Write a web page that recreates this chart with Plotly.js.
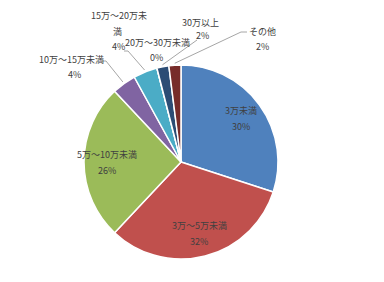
<!DOCTYPE html>
<html>
<head>
<meta charset="utf-8">
<script src="https://cdn.plot.ly/plotly-3.0.1.min.js"></script>
<style>html,body{margin:0;padding:0;background:#fff;}#chart{width:384px;height:282px;}</style>
</head>
<body>
<div id="chart"></div>
<script>
// ---- data ----
const categories = ['3万未満','3万～5万未満','5万～10万未満','10万～15万未満','15万～20万未満','20万～30万未満','30万以上','その他'];
const shares = [30, 32, 26, 4, 4, 0, 2, 2];
const labelLines = [['3万未満'],['3万～5万未満'],['5万～10万未満'],['10万～15万未満'],['15万～20万未','満'],['20万～30万未満'],['30万以上'],['その他']];
const colors = ['#4F81BD','#C0504D','#9BBB59','#8064A2','#4BACC6','#F79646','#2C4D75','#772C2A'];

// ---- layout geometry (pixels) ----
const W = 384, H = 282, CX = 181, CY = 162, R = 97;
// outside label placements: [nameX, nameY(first line), pctX, pctY, elbow points...]
const outside = {
  3: {name:[71,60], pct:[74,74], lead:[[101,61],[106,61]]},
  4: {name:[119,15], pct:[118,46], lead:[[124,51],[128,51]]},
  5: {name:[157,42], pct:[156,58], lead:null},
  6: {name:[200,22], pct:[202,36], lead:[[197,40]]},
  7: {name:[262,32], pct:[262,47], lead:[[247,32],[241,32]]}
};

const px = x => x / W, py = y => 1 - y / H;
const total = shares.reduce((a,b)=>a+b,0);
const font = {family:'"Noto Sans CJK JP", "Noto Sans", sans-serif', size:9, color:'#404040'};
const annotations = [], shapes = [];
let cum = 0;
shares.forEach((v,i)=>{
  const th = 2*Math.PI*(cum + v/2)/total;
  cum += v;
  const sx = Math.sin(th), sy = -Math.cos(th);
  const pctText = Math.round(v/total*100) + '%';
  const add = (t,x,y) => annotations.push({text:t, x:px(x), y:py(y), xref:'paper', yref:'paper', showarrow:false, font:font, xanchor:'center', yanchor:'middle'});
  if (outside[i]) {
    const o = outside[i];
    labelLines[i].forEach((ln,k)=>add(ln, o.name[0] - (k>0?2:0), o.name[1] + k*17));
    add(pctText, o.pct[0], o.pct[1]);
    if (o.lead) {
      const pts = o.lead.concat([[CX + sx*R*1.02, CY + sy*R*1.02]]);
      for (let k=0;k<pts.length-1;k++) {
        shapes.push({type:'line', xref:'paper', yref:'paper', x0:px(pts[k][0]), y0:py(pts[k][1]), x1:px(pts[k+1][0]), y1:py(pts[k+1][1]), line:{color:'#A6A6A6', width:1}});
      }
    }
  } else {
    const d = R*0.76;
    const lx = CX + sx*d, ly = CY + sy*d;
    add(labelLines[i][0], lx, ly - 8);
    add(pctText, lx, ly + 8);
  }
});

const trace = {
  type:'pie', values:shares, labels:categories, sort:false, direction:'clockwise', rotation:0,
  marker:{colors:colors, line:{color:'#ffffff', width:1.5}},
  textinfo:'none', hoverinfo:'skip', showlegend:false,
  domain:{x:[px(CX-R), px(CX+R)], y:[py(CY+R), py(CY-R)]}
};

Plotly.newPlot('chart', [trace], {
  width:W, height:H, margin:{l:0,r:0,t:0,b:0},
  paper_bgcolor:'#ffffff', plot_bgcolor:'#ffffff',
  showlegend:false, annotations:annotations, shapes:shapes
}, {staticPlot:true});
</script>
</body>
</html>
